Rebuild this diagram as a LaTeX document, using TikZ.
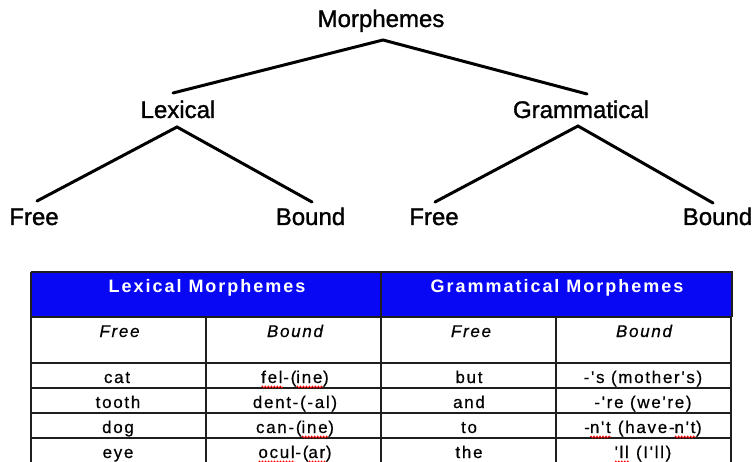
\documentclass[tikz,border=0pt]{standalone}
\usepackage{fontspec}
\usetikzlibrary{decorations.pathmorphing}
\setmainfont{Liberation Sans}
\newfontfamily\treefont[FakeBold=1.2]{Liberation Sans}
\newfontfamily\cellfont[LetterSpace=10,FakeBold=0.5]{Liberation Sans}
\newfontfamily\headfont[LetterSpace=11]{Liberation Sans Bold}
\definecolor{hdrblue}{RGB}{8,8,245}
\definecolor{gridline}{RGB}{30,30,30}
\newsavebox\sqbox
\newlength\sqlen
\newcommand\sqw[1]{\sbox\sqbox{#1}\setlength\sqlen{\wd\sqbox}%
  \leavevmode\rlap{\usebox\sqbox}%
  \raisebox{-4pt}{\tikz[x=1pt,y=1pt,baseline=0pt]\draw[red,line width=0.7pt,decorate,decoration={zigzag,amplitude=1pt,segment length=3pt}] (0,0)--(\sqlen,0);}}
\tikzset{
  treelabel/.style={anchor=base,inner sep=0pt,font=\treefont\fontsize{24}{28}\selectfont},
  treeline/.style={line width=3pt,line cap=round,black},
  hdrtext/.style={anchor=base,inner sep=0pt,text=white,font=\headfont\fontsize{18}{22}\selectfont},
  subhdr/.style={anchor=base,inner sep=0pt,font=\cellfont\itshape\fontsize{17}{20}\selectfont},
  celltext/.style={anchor=base,inner sep=0pt,font=\cellfont\fontsize{17}{20}\selectfont},
  grid/.style={line width=1.3pt,gridline}
}
\begin{document}
\begin{tikzpicture}[x=1pt,y=-1pt]
\useasboundingbox (0,0) rectangle (754,462);
% tree labels
\node[treelabel] (mor) at (381,27) {Morphemes};
\node[treelabel] (lex) at (178,118) {Lexical};
\node[treelabel] (gra) at (581,118) {Grammatical};
\node[treelabel] (lf) at (34,225) {Free};
\node[treelabel] (lb) at (310.5,225) {Bound};
\node[treelabel] (gf) at (434,225) {Free};
\node[treelabel] (gb) at (717.5,225) {Bound};
% connector end points
\coordinate (morA) at (383,40);
\coordinate (lexT) at (173,93);
\coordinate (graT) at (587,94);
\coordinate (lexA) at (177,127);
\coordinate (graA) at (578,126);
\coordinate (lfT) at (37,201);
\coordinate (lbT) at (312,202);
\coordinate (gfT) at (435,202);
\coordinate (gbT) at (713,203);
\draw[treeline] (lexT) -- (morA) -- (graT);
\draw[treeline] (lfT) -- (lexA) -- (lbT);
\draw[treeline] (gfT) -- (graA) -- (gbT);
% table
\fill[hdrblue] (31,272) rectangle (732,317);
\draw[grid] (31,272) -- (732,272) -- (732,317);
\draw[grid] (31,317) -- (732,317);
\foreach \yy in {363,388,413,438} \draw[grid] (31,\yy) -- (731,\yy);
\draw[grid] (31,272) -- (31,462);
\draw[grid] (381,272) -- (381,462);
\draw[grid] (206,317) -- (206,462);
\draw[grid] (556,317) -- (556,462);
\draw[grid] (731,317) -- (731,462);
% header texts
\node[hdrtext] (hl) at (207,292) {Lexical Morphemes};
\node[hdrtext] (hg) at (557,292) {Grammatical Morphemes};
\node[subhdr] (sl1) at (119.5,337) {Free};
\node[subhdr] (sl2) at (295,337) {Bound};
\node[subhdr] (sg1) at (471,337) {Free};
\node[subhdr] (sg2) at (644,337) {Bound};
% rows
\node[celltext] (r1a) at (117,383) {cat};
\node[celltext] (r1b) at (295,383) {\sqw{fel}-(\sqw{ine})};
\node[celltext] (r1c) at (469,383) {but};
\node[celltext] (r1d) at (643,383) {-'s (mother's)};
\node[celltext] (r2a) at (118,408) {tooth};
\node[celltext] (r2b) at (295,408) {dent-(-al)};
\node[celltext] (r2c) at (469,408) {and};
\node[celltext] (r2d) at (643,408) {-'re (we're)};
\node[celltext] (r3a) at (118,433) {dog};
\node[celltext] (r3b) at (295,433) {can-(\sqw{ine})};
\node[celltext] (r3c) at (469,433) {to};
\node[celltext] (r3d) at (643,433) {-\sqw{n't} (have-\sqw{n't})};
\node[celltext] (r4a) at (118,458) {eye};
\node[celltext] (r4b) at (295,458) {\sqw{ocul}-(\sqw{ar})};
\node[celltext] (r4c) at (469,458) {the};
\node[celltext] (r4d) at (643,458) {\sqw{'ll} (I'll)};
\end{tikzpicture}
\end{document}
